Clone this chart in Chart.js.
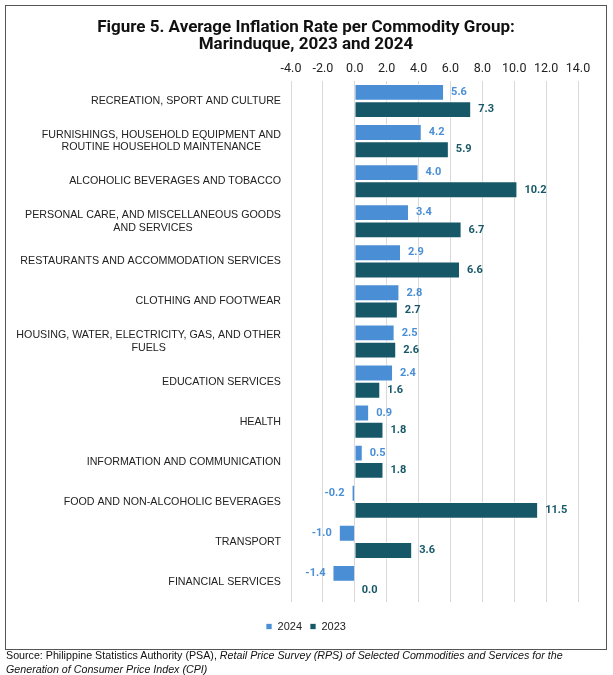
<!DOCTYPE html>
<html><head><meta charset="utf-8">
<script src="https://cdn.jsdelivr.net/npm/chart.js@4"></script>
<style>
html,body{margin:0;padding:0;background:#fff;}
#box{position:absolute;left:5px;top:5px;width:600px;height:643px;border:1.5px solid #555;background:#fff;}
#src{position:absolute;left:6px;top:648px;width:600px;font-family:"Liberation Sans",Arial,sans-serif;font-size:10.7px;line-height:14px;color:#111;}
</style></head>
<body>
<div id="box"><canvas id="c" width="600" height="643"></canvas></div>
<div id="src">Source: Philippine Statistics Authority (PSA), <i>Retail Price Survey (RPS) of Selected Commodities and Services for the<br>Generation of Consumer Price Index (CPI)</i></div>
<script>
const categories = [
  "RECREATION, SPORT AND CULTURE",
  ["FURNISHINGS, HOUSEHOLD EQUIPMENT AND","ROUTINE HOUSEHOLD MAINTENANCE"],
  "ALCOHOLIC BEVERAGES AND TOBACCO",
  ["PERSONAL CARE, AND MISCELLANEOUS GOODS","AND SERVICES"],
  "RESTAURANTS AND ACCOMMODATION SERVICES",
  "CLOTHING AND FOOTWEAR",
  ["HOUSING, WATER, ELECTRICITY, GAS, AND OTHER","FUELS"],
  "EDUCATION SERVICES",
  "HEALTH",
  "INFORMATION AND COMMUNICATION",
  "FOOD AND NON-ALCOHOLIC BEVERAGES",
  "TRANSPORT",
  "FINANCIAL SERVICES"
];
const values2024 = [5.6, 4.2, 4.0, 3.4, 2.9, 2.8, 2.5, 2.4, 0.9, 0.5, -0.2, -1.0, -1.4];
const values2023 = [7.3, 5.9, 10.2, 6.7, 6.6, 2.7, 2.6, 1.6, 1.8, 1.8, 11.5, 3.6, 0.0];
const xTicks = [-4, -2, 0, 2, 4, 6, 8, 10, 12, 14];

const C24 = '#4a8fd6', C23 = '#175868';
const FONT = 'Roboto, "Liberation Sans", sans-serif';
const LFONT = '"Liberation Sans", Arial, sans-serif';

const labelPlugin = {
  id: 'valLabels',
  afterDatasetsDraw(chart) {
    const ctx = chart.ctx;
    ctx.save();
    ctx.font = 'bold 11px ' + FONT;
    ctx.textBaseline = 'middle';
    chart.data.datasets.forEach((ds, di) => {
      const meta = chart.getDatasetMeta(di);
      ctx.fillStyle = ds.labelColor;
      meta.data.forEach((bar, i) => {
        const v = ds.data[i];
        const txt = v.toFixed(1);
        if (v < 0) { ctx.textAlign = 'right'; ctx.fillText(txt, bar.x - 7, bar.y); }
        else { ctx.textAlign = 'left'; ctx.fillText(txt, bar.x + 7, bar.y); }
      });
    });
    ctx.restore();
  }
};

// Category labels: block right-aligned to the axis, lines centred within the block
const catLabelPlugin = {
  id: 'catLabels',
  afterDraw(chart) {
    const ctx = chart.ctx, y = chart.scales.y;
    const lh = 12.8;
    ctx.save();
    ctx.font = '10.7px ' + LFONT;
    ctx.fillStyle = '#222';
    ctx.textAlign = 'center';
    ctx.textBaseline = 'middle';
    const right = y.right - 10;
    chart.data.labels.forEach((lab, i) => {
      const lines = Array.isArray(lab) ? lab : [lab];
      const w = Math.max(...lines.map(l => ctx.measureText(l).width));
      const cx = right - w / 2;
      const cy = y.getPixelForTick(i);
      const y0 = cy - (lines.length - 1) * lh / 2;
      lines.forEach((l, k) => ctx.fillText(l, cx, y0 + k * lh));
    });
    ctx.restore();
  }
};

new Chart(document.getElementById('c'), {
  type: 'bar',
  data: {
    labels: categories,
    datasets: [
      { label: '2024', data: values2024, backgroundColor: C24, borderColor: 'rgba(255,255,255,0.7)', borderWidth: 1, labelColor: C24, categoryPercentage: 0.86, barPercentage: 0.98 },
      { label: '2023', data: values2023, backgroundColor: C23, borderColor: 'rgba(255,255,255,0.7)', borderWidth: 1, labelColor: C23, categoryPercentage: 0.86, barPercentage: 0.98 }
    ]
  },
  options: {
    indexAxis: 'y',
    responsive: false,
    animation: false,
    devicePixelRatio: 1,
    layout: { padding: { left: 0, right: 0, top: 0, bottom: 7 } },
    plugins: {
      title: {
        display: true,
        text: ['Figure 5. Average Inflation Rate per Commodity Group:', 'Marinduque, 2023 and 2024'],
        font: { family: FONT, size: 17, weight: 'bold', lineHeight: 1.0 },
        color: '#111',
        padding: { top: 13.5, bottom: 6.5 }
      },
      legend: {
        position: 'bottom',
        title: { display: true, text: '', font: { size: 1, lineHeight: 1 }, padding: { top: 10, bottom: 0 } },
        labels: { font: { family: LFONT, size: 11 }, color: '#222', boxWidth: 6, boxHeight: 6, padding: 8 }
      },
      tooltip: { enabled: false }
    },
    scales: {
      x: {
        position: 'top',
        min: -4, max: 14,
        afterBuildTicks(axis) { axis.ticks = xTicks.map(v => ({ value: v })); },
        afterFit(axis) { axis.height = 21; },
        ticks: { callback: v => v.toFixed(1), font: { family: FONT, size: 12.5 }, color: '#222', padding: 5 },
        grid: { color: '#d9d9d9', lineWidth: 1, drawTicks: false },
        border: { display: false }
      },
      y: {
        afterFit(axis) { axis.width = 285; },
        ticks: { display: false, autoSkip: false },
        grid: { display: false },
        border: { display: false }
      },
      yRightSpace: {
        type: 'linear',
        position: 'right',
        display: true,
        afterFit(axis) { axis.width = 28; },
        ticks: { display: false },
        grid: { display: false },
        border: { display: false }
      }
    }
  },
  plugins: [labelPlugin, catLabelPlugin]
});
</script>
</body></html>
